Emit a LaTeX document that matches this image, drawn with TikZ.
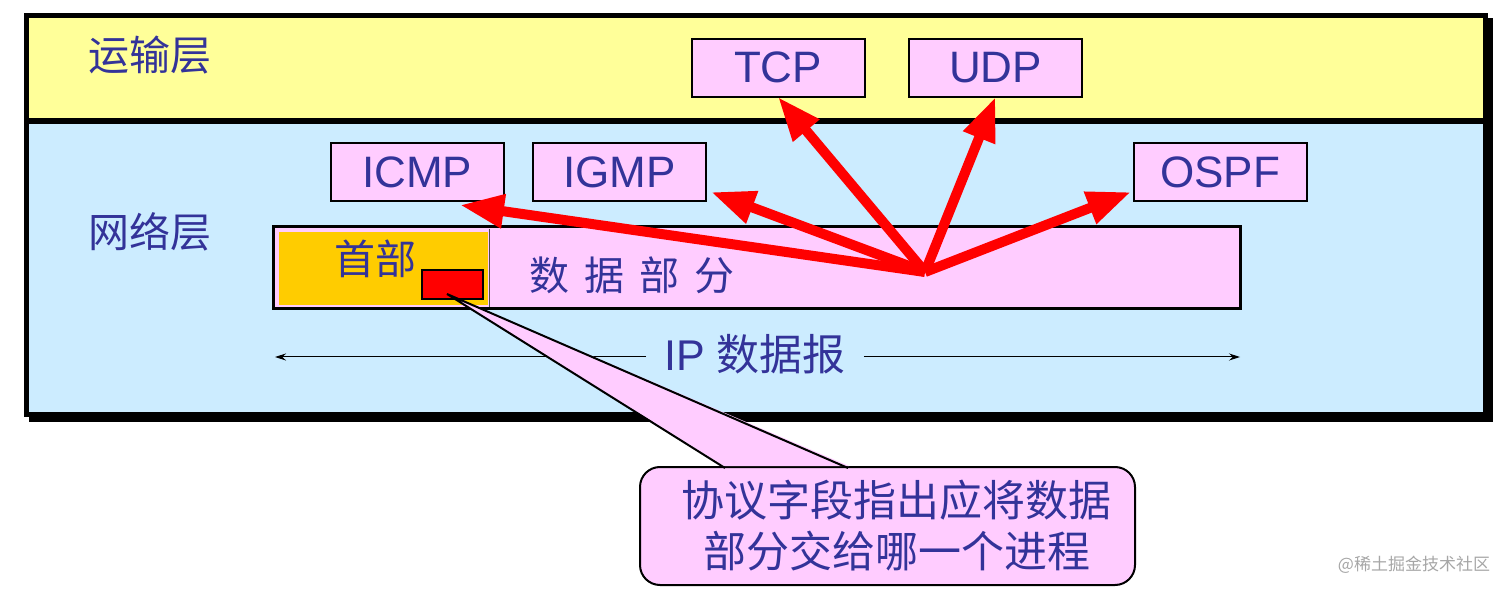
\documentclass[tikz,border=0pt]{standalone}
\usepackage{fontspec}
\setmainfont{Liberation Sans}
\newfontfamily\cjk{Noto Sans CJK SC}
\usetikzlibrary{arrows.meta,calc}
\definecolor{ylw}{HTML}{FFFF99}
\definecolor{lblue}{HTML}{CCECFF}
\definecolor{pnk}{HTML}{FFCCFF}
\definecolor{hdr}{HTML}{FFCC00}
\definecolor{txt}{HTML}{333399}
\definecolor{redA}{HTML}{FF0000}
\begin{document}
\begin{tikzpicture}[x=1pt,y=-1pt,
  proto/.style={draw=black,line width=2pt,fill=pnk,minimum width=173pt,minimum height=58pt,inner sep=0pt,text=txt,font=\fontsize{44}{48}\selectfont},
  lbl/.style={text=txt,font=\cjk\fontsize{41}{44}\selectfont,inner sep=0pt},
  redarrow/.style={draw=redA,line width=10pt,-{Triangle[length=44pt,width=32pt]}},
  thinarrow/.style={draw=black,line width=1pt,-{Stealth[length=11pt,width=7pt]}},
]
\useasboundingbox (0,0) rectangle (1512,593);
% frame with shadow
\fill[black] (29,18) rectangle (1493,422);
\fill[ylw] (26.5,15.5) rectangle (1485.5,121);
\fill[lblue] (26.5,121) rectangle (1485.5,414.5);
\draw[line width=5pt] (26.5,15.5) rectangle (1485.5,414.5);
\draw[line width=6pt] (26.5,121) -- (1485.5,121);

% layer labels
\node[lbl] (tl) at (150,55) {运输层};
\node[lbl] (nl) at (150,232) {网络层};

% protocol boxes
\node[proto] (tcp) at (778,68) {\raisebox{2pt}{TCP}};
\node[proto] (udp) at (995.5,68) {\raisebox{-3pt}{UDP}};
\node[proto] (icmp) at (417,172) {ICMP};
\node[proto] (igmp) at (619.5,172) {IGMP};
\node[proto] (ospf) at (1220,172) {OSPF};

% IP datagram
\node[draw=black,line width=3pt,fill=pnk,minimum width=967pt,minimum height=82pt,inner sep=0pt] (dg) at (756.5,268) {};
\fill[hdr] (279,232) rectangle (488,305);
\draw[line width=1pt,black!70] (489,229) -- (489,307);
\node[lbl] (hd) at (375,259) {首部};
\node[draw=black,line width=2pt,fill=redA,minimum width=61pt,minimum height=29pt,inner sep=0pt] (pf) at (452.5,284.5) {};
\node[lbl,font=\cjk\fontsize{40}{44}\selectfont] (dp) at (632,275) {数\hspace{15pt}据\hspace{15pt}部\hspace{15pt}分};

% IP datagram label with extent arrows
\coordinate (dgL) at (275,357);
\coordinate (dgR) at (1240,357);
\node[text=txt,font=\fontsize{43}{46}\selectfont,inner xsep=18pt,inner ysep=0pt] (ipl) at (755,354) {IP {\cjk 数据报}};
\draw[thinarrow] (ipl.west |- dgL) -- (dgL);
\draw[thinarrow] (ipl.east |- dgR) -- (dgR);

% red arrows from data part to protocols
\coordinate (hub) at (925,272);
\coordinate (icmpT) at (460,205);
\coordinate (igmpT) at (711,192);
\coordinate (ospfT) at (1131,192);
\draw[redarrow] (hub) -- (icmpT);
\draw[redarrow] (hub) -- (igmpT);
\draw[redarrow] (hub) -- ([yshift=1pt]tcp.south);
\draw[redarrow] (hub) -- ([yshift=1pt]udp.south);
\draw[redarrow] (hub) -- (ospfT);

% callout
\node[draw=black,line width=2pt,fill=pnk,rounded corners=20pt,minimum width=495pt,minimum height=118pt,inner sep=0pt,align=center,text=txt,font=\cjk\fontsize{43}{51}\selectfont] (co) at (887.5,526) {\hspace*{18pt}协议字段指出应将数据\\\hspace*{18pt}部分交给哪一个进程};
\coordinate (tip) at (447,294);
\coordinate (bl) at (725,468);
\coordinate (br) at (848,468);
\fill[pnk] (tip) -- ([xshift=-1pt,yshift=2pt]bl) -- ([xshift=1pt,yshift=2pt]br) -- cycle;
\draw[line width=2pt,line join=miter] (bl) -- (tip) -- (br);

% watermark
\node[text=black!35,font=\cjk\fontsize{17}{18}\selectfont,inner sep=0pt] (wm) at (1414,565) {@稀土掘金技术社区};
\end{tikzpicture}
\end{document}
